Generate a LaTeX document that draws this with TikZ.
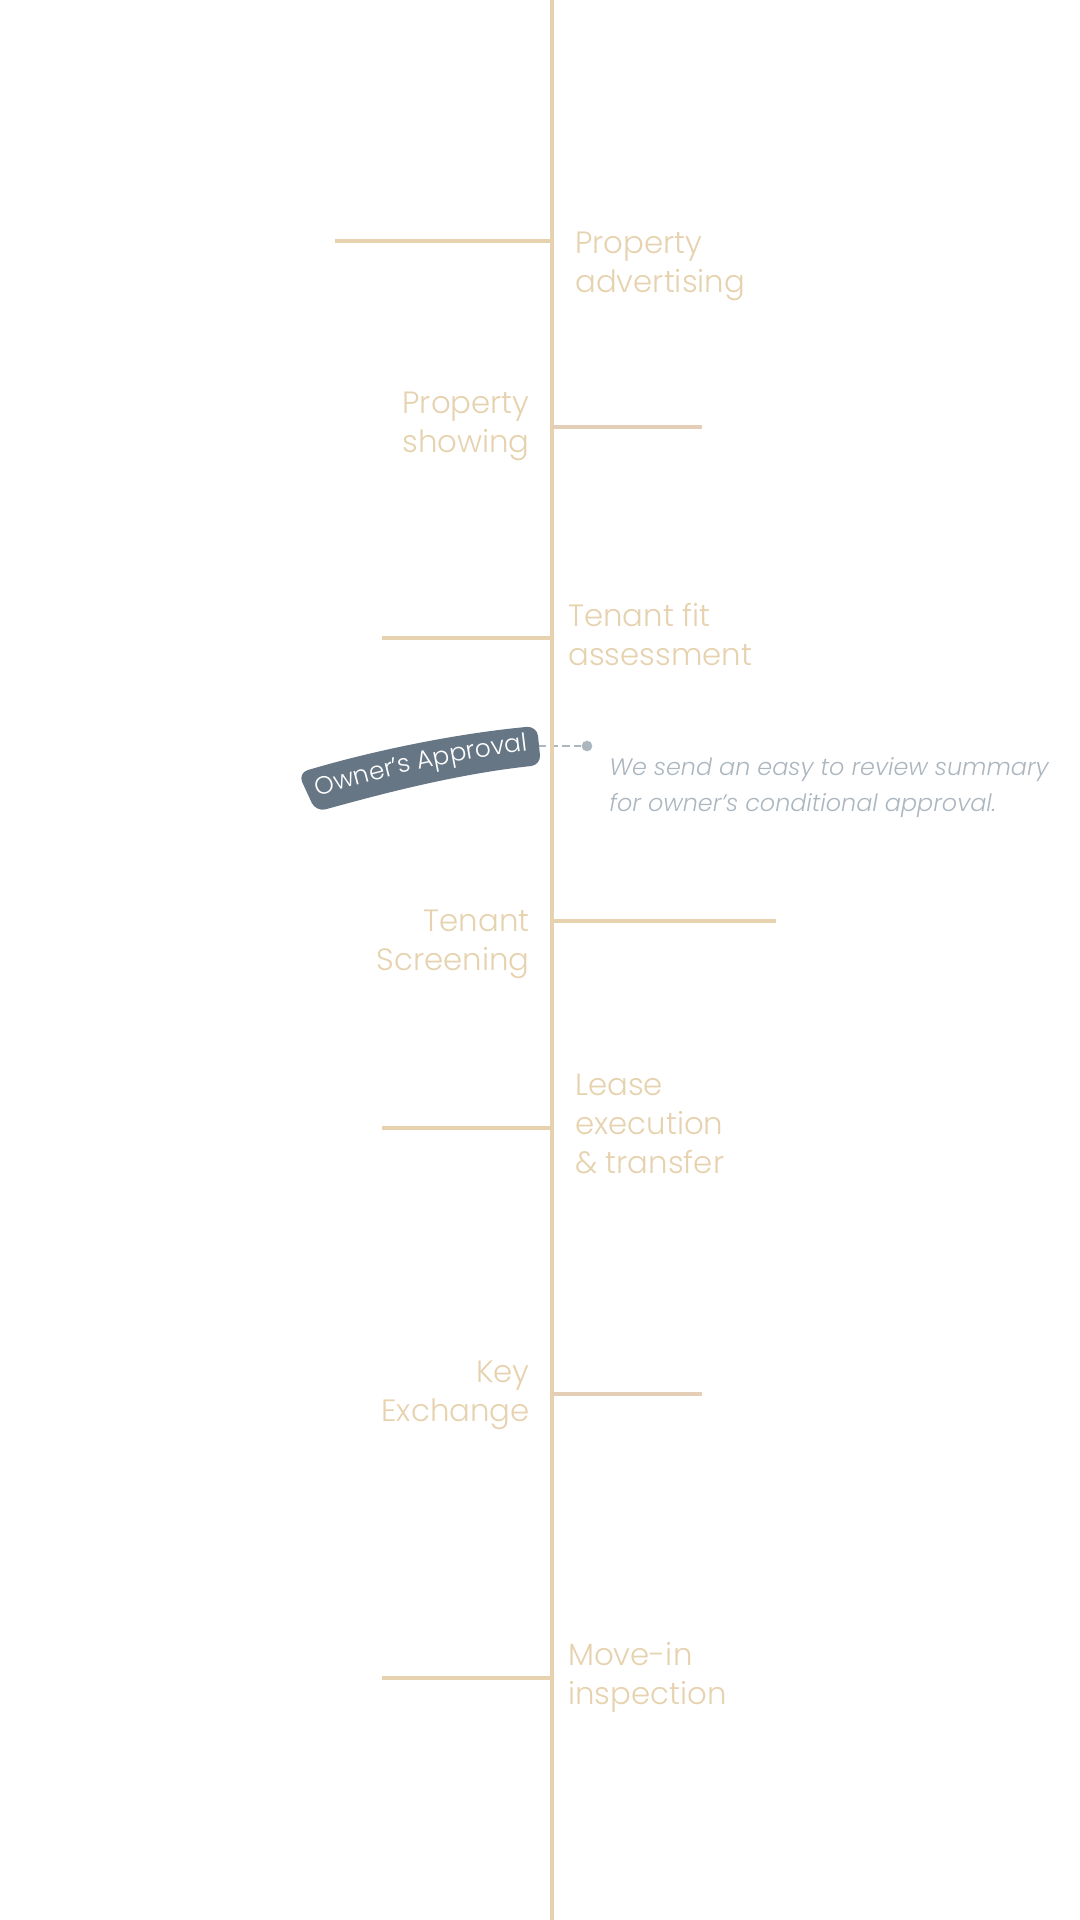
\documentclass[tikz,border=0pt]{standalone}
\usepackage{fontspec}
\setmainfont{Poppins}[UprightFont=* Light,ItalicFont=* Light Italic]
\usepackage{tikz}
\usetikzlibrary{
	positioning,
	decorations.text
}
\definecolor{sand}{HTML}{E6D2AF}
\definecolor{blush}{HTML}{E5CEB8}
\definecolor{slate}{HTML}{667685}
\definecolor{mist}{HTML}{ACB6BF}
\tikzset{
	tick/.style={draw=sand,line width=3pt},
	steplabel/.style={text=sand,font=\fontsize{23.1}{29.2}\selectfont,inner sep=0pt},
	stepleft/.style={steplabel,align=right,anchor=base east},
	stepright/.style={steplabel,align=left,anchor=base west},
	notetext/.style={text=mist,align=left,anchor=base west,inner sep=0pt,font=\fontsize{17.9}{27}\selectfont\itshape}
}

\begin{document}
\begin{tikzpicture}[x=0.75pt,y=0.75pt]
		\useasboundingbox (0,0) rectangle (1080,-1920);

		\coordinate (top)    at (551.5,0);
		\coordinate (bottom) at (551.5,-1920);

		\coordinate (t1) at (551.5,-241);
		\coordinate (e1) at (335,-241);
		\coordinate (t2) at (551.5,-426.5);
		\coordinate (e2) at (702,-426.5);
		\coordinate (t3) at (551.5,-638);
		\coordinate (e3) at (382,-638);
		\coordinate (t4) at (551.5,-921);
		\coordinate (e4) at (776,-921);
		\coordinate (t5) at (551.5,-1128);
		\coordinate (e5) at (382,-1128);
		\coordinate (t6) at (551.5,-1394);
		\coordinate (e6) at (702,-1394);
		\coordinate (t7) at (551.5,-1678);
		\coordinate (e7) at (382,-1678);

		% approval band
		\coordinate (bandend) at (538,-746);
		\node[circle,fill=mist,inner sep=0pt,minimum size=8pt] (dot) at (587,-746) {};
		\draw[mist,line width=1.9pt,dash pattern=on 6pt off 3pt] (bandend) -- (dot);

		\draw[tick] (top) -- (bottom);
		\draw[tick] (t1) -- (e1);
		\draw[tick,draw=blush] (t2) -- (e2);
		\draw[tick] (t3) -- (e3);
		\draw[tick] (t4) -- (e4);
		\draw[tick] (t5) -- (e5);
		\draw[tick,draw=blush] (t6) -- (e6);
		\draw[tick] (t7) -- (e7);

		\fill[slate,rounded corners=7.5pt]
			(298,-773) .. controls (375,-750) and (460,-733) .. (537,-726)
			-- (541,-765) .. controls (465,-773) and (395,-790) .. (316,-812) -- cycle;
		\path[postaction={decorate,decoration={text along path,text align=center,
			text color=white,text={|\fontsize{18.7}{20}\selectfont|Owner’s Approval}}}]
			(312,-798) .. controls (387,-775) and (462,-758) .. (534,-750);

		\node[stepright] (advertising) at (575,-292)  {Property\\advertising};
		\node[stepleft]  (showing)     at (530,-452)  {Property\\showing};
		\node[stepright] (fit)         at (568,-665)  {Tenant fit\\assessment};
		\node[stepleft]  (screening)   at (530,-970)  {Tenant\\Screening};
		\node[stepright] (lease)       at (575,-1173) {Lease\\execution\\\& transfer};
		\node[stepleft]  (exchange)    at (530,-1421) {Key\\Exchange};
		\node[stepright] (inspection)  at (568,-1704) {Move-in\\inspection};
		\node[notetext]  (note)        at (609,-811.5)  {We send an easy to review summary\\for owner’s conditional approval.};
	\end{tikzpicture}
\end{document}
